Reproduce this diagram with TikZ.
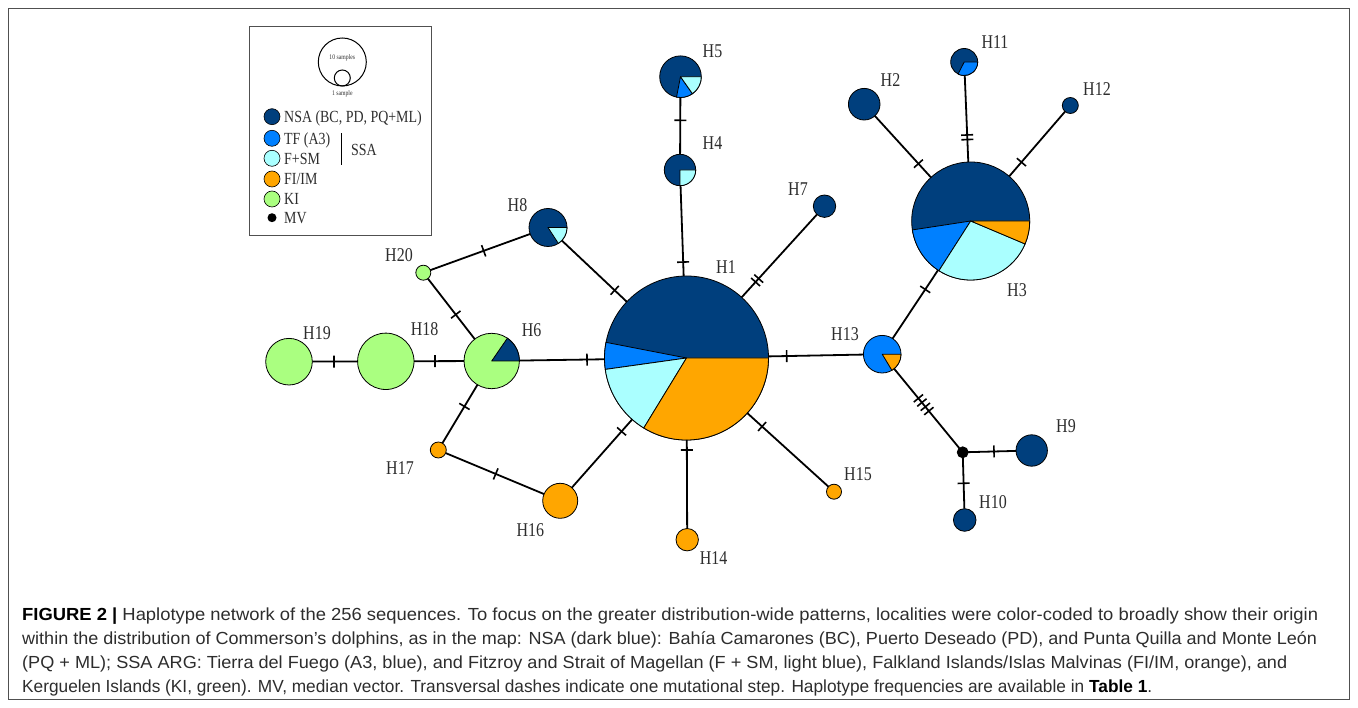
\documentclass[tikz,border=0pt]{standalone}
\usepackage{fontspec}
\usepackage{graphicx}
\setmainfont{Liberation Serif}
\newfontfamily\labf[FakeStretch=0.82]{Liberation Serif}
\newfontfamily\capf{Liberation Sans}
\usetikzlibrary{decorations.markings}
\definecolor{nsa}{RGB}{0,63,125}
\definecolor{tf}{RGB}{0,128,255}
\definecolor{fsm}{RGB}{170,255,255}
\definecolor{fi}{RGB}{255,166,0}
\definecolor{ki}{RGB}{170,255,128}
\definecolor{framec}{RGB}{80,80,80}
\definecolor{txt}{RGB}{45,45,45}
\newcommand\pwedge[5]{\filldraw[fill=#5, draw=black, line width=0.8pt, line join=round] (#1.center) -- ++(#3:#2) arc[start angle=#3, end angle=#4, radius=#2] -- cycle;}
\tikzset{
  hap/.style={circle, draw=black, line width=0.8pt, inner sep=0pt, outer sep=0pt, minimum size=#1},
  lab/.style={font=\labf\fontsize{19.5}{19.5}\selectfont, text=txt, inner sep=0pt},
  leg/.style={font=\labf\fontsize{17}{17}\selectfont, text=txt, inner sep=0pt, anchor=base west},
  tiny/.style={font=\labf\fontsize{7}{7}\selectfont, text=txt, inner sep=0pt},
  edge/.style={line width=1.8pt},
  tk/.style={postaction={decorate, decoration={markings, mark=at position #1 with {\draw[line width=1.6pt] (0,-6) -- (0,6);}}}},
  tkk/.style={postaction={decorate, decoration={markings, mark=at position #1 with {\draw[line width=1.6pt] (-2.3,-6) -- (-2.3,6) (2.3,-6) -- (2.3,6);}}}},
  tkkkk/.style={postaction={decorate, decoration={markings, mark=at position #1 with {\draw[line width=1.6pt] (-8.25,-6) -- (-8.25,6) (-2.75,-6) -- (-2.75,6) (2.75,-6) -- (2.75,6) (8.25,-6) -- (8.25,6);}}}},
  capl/.style={anchor=base west, inner sep=0pt, text=txt}
}
\begin{document}
\begin{tikzpicture}[x=1pt,y=1pt]
\useasboundingbox (0,0) rectangle (1358,-708);
\draw[framec, line width=1.5pt] (8.5,-8.5) rectangle (1349.5,-699.5);

% legend
\draw[framec, line width=1pt] (249.5,-26.5) rectangle (431.5,-235.5);
\node[circle, draw=black, line width=1pt, inner sep=0pt, minimum size=48] (big) at (342.3,-62) {};
\node[circle, draw=black, line width=1pt, inner sep=0pt, minimum size=16] (small) at (342.3,-78) {};
\node[tiny] (t10) at (342.3,-58) {10 samples};
\node[tiny] (t1) at (342.3,-94.3) {1 sample};
\node[circle, draw=black, line width=0.6pt, fill=nsa, inner sep=0pt, minimum size=16] (cNSA) at (272,-116.7) {};
\node[circle, draw=black, line width=0.6pt, fill=tf, inner sep=0pt, minimum size=16] (cTF) at (272,-138.3) {};
\node[circle, draw=black, line width=0.6pt, fill=fsm, inner sep=0pt, minimum size=16] (cFSM) at (272,-158.3) {};
\node[circle, draw=black, line width=0.6pt, fill=fi, inner sep=0pt, minimum size=16] (cFI) at (272,-179) {};
\node[circle, draw=black, line width=0.6pt, fill=ki, inner sep=0pt, minimum size=16] (cKI) at (272,-199) {};
\node[circle, fill=black, inner sep=0pt, minimum size=9] (cMV) at (272,-217.7) {};
\node[leg] (lNSA) at (284,-122.5) {NSA (BC, PD, PQ+ML)};
\node[leg] (lTF) at (284,-144.1) {TF (A3)};
\node[leg] (lFSM) at (284,-164.1) {F+SM};
\node[leg] (lFI) at (284,-184.8) {FI/IM};
\node[leg] (lKI) at (284,-204.8) {KI};
\node[leg] (lMV) at (284,-223.5) {MV};
\node[leg] (lSSA) at (351,-155.8) {SSA};
\coordinate (ssaT) at (341.3,-133.3);
\coordinate (ssaB) at (341.3,-165);
\draw[line width=0.9pt] (ssaT) -- (ssaB);

% haplotypes
\node[hap=164, fill=nsa] (H1) at (686.5,-358) {};
\node[hap=31.6, fill=nsa] (H2) at (864.2,-104.2) {};
\node[hap=118, fill=nsa] (H3) at (970.7,-221) {};
\node[hap=31.4, fill=nsa] (H4) at (680,-170) {};
\node[hap=41.6, fill=nsa] (H5) at (680.5,-76.7) {};
\node[hap=55.4, fill=ki] (H6) at (491.7,-361) {};
\node[hap=22.4, fill=nsa] (H7) at (824.5,-206.2) {};
\node[hap=38, fill=nsa] (H8) at (548,-227.5) {};
\node[hap=31.4, fill=nsa] (H9) at (1031.7,-450.5) {};
\node[hap=22.6, fill=nsa] (H10) at (964.7,-520) {};
\node[hap=27, fill=nsa] (H11) at (964.2,-62) {};
\node[hap=16, fill=nsa] (H12) at (1070.3,-105.5) {};
\node[hap=37.6, fill=tf] (H13) at (882.2,-354.2) {};
\node[hap=22.4, fill=fi] (H14) at (687.2,-539.7) {};
\node[hap=15, fill=fi] (H15) at (834,-491.7) {};
\node[hap=35, fill=fi] (H16) at (560.2,-500.8) {};
\node[hap=16, fill=fi] (H17) at (438.3,-450) {};
\node[hap=56.4, fill=ki] (H18) at (385.8,-361.3) {};
\node[hap=46.6, fill=ki] (H19) at (289,-361.7) {};
\node[hap=15, fill=ki] (H20) at (423.3,-272.7) {};
\node[hap=11, fill=black] (MV) at (962.7,-452.3) {};

% pie wedges
\pwedge{H1}{82}{169}{188}{tf}
\pwedge{H1}{82}{188}{238.6}{fsm}
\pwedge{H1}{82}{238.6}{360}{fi}
\pwedge{H3}{59}{188.7}{237.4}{tf}
\pwedge{H3}{59}{237.4}{337.1}{fsm}
\pwedge{H3}{59}{337.1}{360}{fi}
\pwedge{H4}{15.7}{270}{360}{fsm}
\pwedge{H5}{20.8}{259}{305}{tf}
\pwedge{H5}{20.8}{305}{360}{fsm}
\pwedge{H6}{27.7}{0}{55.5}{nsa}
\pwedge{H8}{19}{303}{360}{fsm}
\pwedge{H11}{13.5}{243}{360}{tf}
\pwedge{H13}{18.8}{301}{360}{fi}

% edges
\draw[edge, tk=14pt] (H1) -- (H4);
\draw[edge, tk=34pt] (H4) -- (H5);
\draw[edge, tkk=23pt] (H1) -- (H7);
\draw[edge, tk=16.7pt] (H1) -- (H8);
\draw[edge, tk=17.5pt] (H1) -- (H6);
\draw[edge, tk=18.2pt] (H1) -- (H13);
\draw[edge, tk=20pt] (H1) -- (H15);
\draw[edge, tk=10pt] (H1) -- (H14);
\draw[edge, tk=16pt] (H1) -- (H16);
\draw[edge, tk=29pt] (H6) -- (H18);
\draw[edge, tk=23.6pt] (H18) -- (H19);
\draw[edge, tk=31pt] (H6) -- (H20);
\draw[edge, tk=56.7pt] (H20) -- (H8);
\draw[edge, tk=25.3pt] (H6) -- (H17);
\draw[edge, tk=54.2pt] (H17) -- (H16);
\draw[edge, tk=59pt] (H13) -- (H3);
\draw[edge, tkkkk=46.5pt] (H13) -- (MV);
\draw[edge, tk=25.8pt] (MV) -- (H9);
\draw[edge, tk=25.5pt] (MV) -- (H10);
\draw[edge, tk=18.6pt] (H3) -- (H2);
\draw[edge, tkk=24.8pt] (H3) -- (H11);
\draw[edge, tk=18.7pt] (H3) -- (H12);

% labels
\node[lab] (lH1) at (726,-267) {H1};
\node[lab] (lH2) at (890.5,-80) {H2};
\node[lab] (lH3) at (1017,-290) {H3};
\node[lab] (lH4) at (712.5,-143.5) {H4};
\node[lab] (lH5) at (712.5,-51) {H5};
\node[lab] (lH6) at (531.7,-330) {H6};
\node[lab] (lH7) at (798,-189) {H7};
\node[lab] (lH8) at (517.5,-205) {H8};
\node[lab] (lH9) at (1066,-426) {H9};
\node[lab] (lH10) at (993,-502) {H10};
\node[lab] (lH11) at (995,-42) {H11};
\node[lab] (lH12) at (1097,-89) {H12};
\node[lab] (lH13) at (845,-334) {H13};
\node[lab] (lH14) at (713.7,-558.3) {H14};
\node[lab] (lH15) at (858,-474) {H15};
\node[lab] (lH16) at (530.3,-530) {H16};
\node[lab] (lH17) at (400,-468) {H17};
\node[lab] (lH18) at (424.7,-329) {H18};
\node[lab] (lH19) at (317,-333) {H19};
\node[lab] (lH20) at (399,-255) {H20};

% caption
\node[capl] (cap1) at (22,-620) {\resizebox{1296pt}{\height}{\capf\fontsize{17.5}{17.5}\selectfont\textbf{\color{black}FIGURE 2 |} Haplotype network of the 256 sequences. To focus on the greater distribution-wide patterns, localities were color-coded to broadly show their origin}};
\node[capl] (cap2) at (22,-644) {\resizebox{1295pt}{\height}{\capf\fontsize{17.5}{17.5}\selectfont within the distribution of Commerson’s dolphins, as in the map: NSA (dark blue): Bahía Camarones (BC), Puerto Deseado (PD), and Punta Quilla and Monte León}};
\node[capl] (cap3) at (22,-668.3) {\resizebox{1265pt}{\height}{\capf\fontsize{17.5}{17.5}\selectfont (PQ + ML); SSA ARG: Tierra del Fuego (A3, blue), and Fitzroy and Strait of Magellan (F + SM, light blue), Falkland Islands/Islas Malvinas (FI/IM, orange), and}};
\node[capl] (cap4) at (22,-692.7) {\resizebox{1130pt}{\height}{\capf\fontsize{17.5}{17.5}\selectfont Kerguelen Islands (KI, green). MV, median vector. Transversal dashes indicate one mutational step. Haplotype frequencies are available in \textbf{\color{black}Table 1}.}};
\end{tikzpicture}
\end{document}
